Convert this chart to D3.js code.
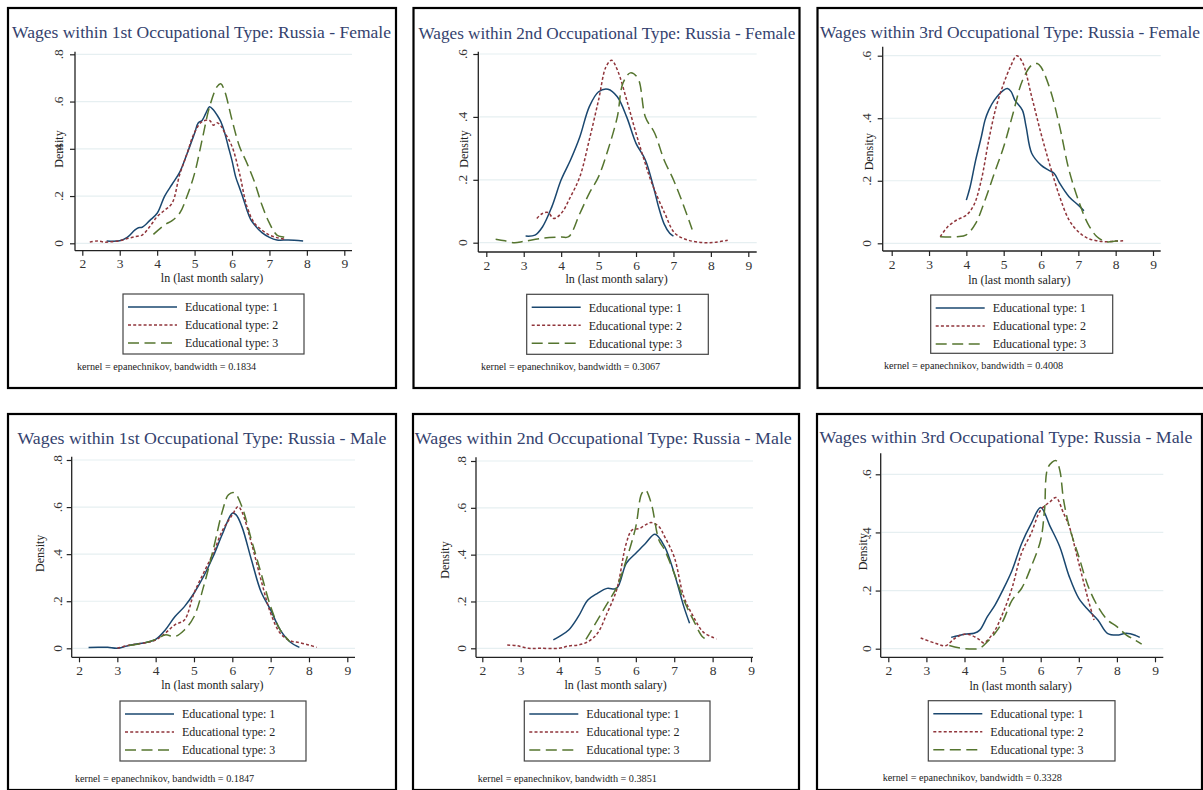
<!DOCTYPE html>
<html><head><meta charset="utf-8">
<script src="https://cdn.jsdelivr.net/npm/d3@7"></script>
<style>html,body{margin:0;padding:0;background:#fff;}svg{display:block;}</style>
</head><body>
<svg id="c" width="1203" height="790"></svg>
<script>
// ---------- DATA ----------
const titles = [
  "Wages within 1st Occupational Type: Russia - Female",
  "Wages within 2nd Occupational Type: Russia - Female",
  "Wages within 3rd Occupational Type: Russia - Female",
  "Wages within 1st Occupational Type: Russia - Male",
  "Wages within 2nd Occupational Type: Russia - Male",
  "Wages within 3rd Occupational Type: Russia - Male"
];
const bandwidths = ["0.1834","0.3067","0.4008","0.1847","0.3851","0.3328"];
const seriesNames = ["Educational type: 1","Educational type: 2","Educational type: 3"];
const xTicks = [2,3,4,5,6,7,8,9];
const yTicksFemale1 = [0,0.2,0.4,0.6,0.8];
const yTicksFemale2 = [0,0.2,0.4,0.6];
const yTicksFemale3 = [0,0.2,0.4,0.6];
const yTicksMale1 = [0,0.2,0.4,0.6,0.8];
const yTicksMale2 = [0,0.2,0.4,0.6,0.8];
const yTicksMale3 = [0,0.2,0.4,0.6];

// Female, occupational type 1
const f1_edu1 = [[2.65,0.01],[3.0,0.011],[3.2,0.025],[3.4,0.056],[3.5,0.066],[3.6,0.068],[3.8,0.096],[4.0,0.127],[4.2,0.2],[4.4,0.25],[4.6,0.3],[4.8,0.38],[5.0,0.466],[5.1,0.51],[5.2,0.52],[5.3,0.55],[5.4,0.578],[5.5,0.565],[5.6,0.543],[5.7,0.515],[5.8,0.47],[5.9,0.41],[6.0,0.35],[6.1,0.28],[6.2,0.235],[6.3,0.19],[6.4,0.14],[6.5,0.1],[6.6,0.078],[6.8,0.045],[7.0,0.025],[7.2,0.014],[7.5,0.014],[7.9,0.01]];
const f1_edu2 = [[2.2,0.005],[2.4,0.01],[2.6,0.005],[2.8,0.007],[3.0,0.011],[3.2,0.02],[3.4,0.028],[3.6,0.035],[3.8,0.07],[4.0,0.113],[4.2,0.14],[4.4,0.17],[4.6,0.29],[4.8,0.38],[5.0,0.47],[5.2,0.515],[5.4,0.52],[5.5,0.5],[5.6,0.51],[5.7,0.497],[5.8,0.47],[6.0,0.41],[6.2,0.296],[6.4,0.155],[6.6,0.085],[6.8,0.056],[7.0,0.035],[7.2,0.024],[7.4,0.017]];
const f1_edu3 = [[3.9,0.038],[4.2,0.078],[4.4,0.096],[4.6,0.127],[4.8,0.2],[5.0,0.296],[5.2,0.437],[5.4,0.578],[5.6,0.663],[5.7,0.675],[5.8,0.646],[6.0,0.522],[6.2,0.41],[6.4,0.339],[6.6,0.26],[6.8,0.162],[7.0,0.085],[7.2,0.035],[7.4,0.025],[7.5,0.017]];

// Female, occupational type 2
const f2_edu1 = [[3.05,0.021],[3.3,0.024],[3.5,0.05],[3.75,0.114],[4.0,0.2],[4.25,0.263],[4.5,0.337],[4.75,0.432],[5.0,0.48],[5.25,0.488],[5.5,0.464],[5.75,0.4],[6.0,0.316],[6.25,0.263],[6.5,0.162],[6.6,0.115],[6.75,0.06],[6.9,0.03],[7.0,0.021]];
const f2_edu2 = [[3.35,0.077],[3.5,0.093],[3.65,0.096],[3.8,0.077],[4.0,0.093],[4.25,0.146],[4.5,0.21],[4.75,0.326],[5.0,0.454],[5.2,0.56],[5.35,0.58],[5.5,0.55],[5.75,0.454],[6.0,0.348],[6.2,0.27],[6.42,0.19],[6.77,0.093],[7.04,0.03],[7.4,0.008],[7.8,0.0],[8.1,0.001],[8.45,0.008]];
const f2_edu3 = [[2.25,0.011],[2.5,0.006],[2.75,0.0],[3.0,0.004],[3.5,0.014],[4.0,0.018],[4.2,0.019],[4.5,0.093],[4.75,0.157],[5.0,0.21],[5.25,0.295],[5.5,0.4],[5.65,0.507],[5.85,0.54],[6.05,0.523],[6.25,0.4],[6.5,0.348],[6.75,0.263],[7.0,0.2],[7.25,0.125],[7.5,0.042]];

// Female, occupational type 3
const f3_edu1 = [[4.0,0.138],[4.1,0.18],[4.25,0.266],[4.4,0.34],[4.5,0.394],[4.6,0.426],[4.75,0.458],[5.0,0.49],[5.1,0.495],[5.2,0.485],[5.3,0.458],[5.5,0.426],[5.6,0.373],[5.75,0.288],[6.0,0.25],[6.2,0.234],[6.35,0.224],[6.5,0.192],[6.75,0.149],[7.0,0.122],[7.15,0.104]];
const f3_edu2 = [[3.3,0.021],[3.5,0.053],[3.75,0.075],[4.0,0.09],[4.2,0.122],[4.4,0.202],[4.6,0.33],[4.8,0.437],[5.0,0.511],[5.2,0.57],[5.35,0.6],[5.5,0.58],[5.75,0.469],[6.0,0.351],[6.25,0.245],[6.5,0.149],[6.75,0.075],[7.0,0.037],[7.25,0.016],[7.5,0.008],[7.75,0.005],[8.0,0.007],[8.2,0.008]];
const f3_edu3 = [[3.3,0.021],[3.75,0.021],[4.0,0.027],[4.25,0.064],[4.5,0.138],[4.75,0.224],[5.0,0.309],[5.25,0.415],[5.5,0.52],[5.75,0.57],[5.9,0.575],[6.0,0.564],[6.25,0.49],[6.5,0.373],[6.75,0.234],[7.0,0.138],[7.25,0.064],[7.5,0.021],[7.75,0.005],[8.0,0.007],[8.2,0.008]];

// Male, occupational type 1
const m1_edu1 = [[2.25,0.003],[2.5,0.004],[2.75,0.004],[3.0,0.0],[3.25,0.01],[3.5,0.018],[3.75,0.025],[4.0,0.038],[4.25,0.078],[4.5,0.134],[4.75,0.177],[5.0,0.234],[5.25,0.305],[5.5,0.39],[5.75,0.489],[6.0,0.574],[6.1,0.567],[6.25,0.517],[6.5,0.375],[6.75,0.24],[7.0,0.163],[7.25,0.078],[7.5,0.028],[7.75,0.004]];
const m1_edu2 = [[3.0,0.0],[3.25,0.011],[3.5,0.018],[3.75,0.024],[4.0,0.035],[4.25,0.064],[4.5,0.1],[4.75,0.12],[5.0,0.234],[5.25,0.32],[5.5,0.404],[5.75,0.503],[6.0,0.567],[6.15,0.602],[6.25,0.58],[6.5,0.446],[6.75,0.29],[7.0,0.149],[7.25,0.064],[7.5,0.033],[7.75,0.024],[8.0,0.014],[8.2,0.004]];
const m1_edu3 = [[3.3,0.012],[3.75,0.025],[4.0,0.038],[4.25,0.057],[4.5,0.05],[4.75,0.078],[5.0,0.134],[5.25,0.262],[5.5,0.418],[5.75,0.588],[5.9,0.652],[6.05,0.661],[6.25,0.602],[6.5,0.46],[6.75,0.319],[7.0,0.177],[7.25,0.078],[7.5,0.028]];

// Male, occupational type 2
const m2_edu1 = [[3.85,0.036],[4.0,0.05],[4.25,0.078],[4.5,0.135],[4.75,0.206],[5.0,0.235],[5.25,0.256],[5.5,0.256],[5.75,0.363],[6.0,0.406],[6.25,0.448],[6.5,0.487],[6.75,0.434],[7.0,0.32],[7.25,0.178],[7.4,0.107]];
const m2_edu2 = [[2.65,0.014],[2.9,0.011],[3.2,0.0],[3.5,0.0],[4.0,0.0],[4.25,0.01],[4.5,0.014],[4.75,0.028],[5.0,0.064],[5.25,0.15],[5.5,0.25],[5.75,0.448],[5.9,0.505],[6.1,0.512],[6.25,0.527],[6.4,0.537],[6.6,0.52],[6.75,0.477],[7.0,0.39],[7.25,0.22],[7.5,0.135],[7.75,0.07],[8.0,0.047],[8.1,0.04]];
const m2_edu3 = [[4.7,0.038],[5.0,0.12],[5.25,0.19],[5.5,0.26],[5.75,0.377],[6.0,0.52],[6.15,0.66],[6.25,0.676],[6.4,0.62],[6.6,0.463],[6.75,0.42],[7.0,0.32],[7.25,0.206],[7.5,0.12],[7.75,0.047],[7.9,0.036]];

// Male, occupational type 3
const m3_edu1 = [[3.65,0.039],[4.0,0.05],[4.25,0.053],[4.4,0.064],[4.6,0.11],[4.8,0.15],[5.0,0.2],[5.25,0.27],[5.5,0.362],[5.75,0.43],[6.0,0.486],[6.25,0.42],[6.5,0.351],[6.75,0.248],[7.0,0.173],[7.25,0.133],[7.5,0.099],[7.75,0.053],[8.0,0.047],[8.25,0.053],[8.5,0.045],[8.6,0.039]];
const m3_edu2 = [[2.85,0.037],[3.25,0.018],[3.5,0.01],[3.75,0.036],[4.0,0.05],[4.2,0.045],[4.4,0.03],[4.5,0.02],[4.75,0.053],[5.0,0.12],[5.25,0.21],[5.5,0.33],[5.75,0.397],[6.0,0.477],[6.25,0.506],[6.4,0.52],[6.6,0.466],[6.75,0.42],[7.0,0.294],[7.25,0.167],[7.4,0.099]];
const m3_edu3 = [[3.6,0.011],[4.0,0.0],[4.4,0.002],[4.6,0.024],[4.8,0.053],[5.0,0.093],[5.25,0.167],[5.5,0.208],[5.75,0.282],[6.0,0.374],[6.1,0.477],[6.2,0.626],[6.4,0.647],[6.5,0.615],[6.6,0.512],[6.75,0.42],[7.0,0.317],[7.25,0.213],[7.5,0.145],[7.75,0.099],[8.0,0.076],[8.25,0.047],[8.5,0.028],[8.65,0.016]];

const panelSeries = [
  [f1_edu1,f1_edu2,f1_edu3],[f2_edu1,f2_edu2,f2_edu3],[f3_edu1,f3_edu2,f3_edu3],
  [m1_edu1,m1_edu2,m1_edu3],[m2_edu1,m2_edu2,m2_edu3],[m3_edu1,m3_edu2,m3_edu3]
];
const panelYTicks = [yTicksFemale1,yTicksFemale2,yTicksFemale3,yTicksMale1,yTicksMale2,yTicksMale3];

// ---------- LAYOUT (pixels) ----------
const layout = [
  {frame:[8,8,388,380], plot:{l:75,r:352,t:51.7,b:250.7}, xr:[82.3,344.3], yr:[243.3,54.3], ymax:0.8,
   title:[201.5,38], tw:379, legend:[123,294,181,60], note:[77,370], xlab:[212,282], dens:[59,149], ytl:58},
  {frame:[413.5,8,386,380], plot:{l:478.3,r:756.7,t:51.7,b:252}, xr:[486.3,748.3], yr:[242.7,54], ymax:0.6,
   title:[607,38.5], tw:377, legend:[526.7,294.3,181.6,60], note:[481,369.5], xlab:[616.7,283], dens:[464,149], ytl:462.5},
  {frame:[817.5,8,400,380], plot:{l:882.7,r:1160.7,t:46.7,b:251}, xr:[891.7,1153], yr:[243.3,55.7], ymax:0.6,
   title:[1010,37.5], tw:380, legend:[930.7,295,182,58.3], note:[884,368.5], xlab:[1019.3,284], dens:[868.3,151.7], ytl:866},
  {frame:[8,414,388,376], plot:{l:71.7,r:355,t:456.7,b:657.3}, xr:[79,347.3], yr:[648.3,460], ymax:0.8,
   title:[202,444], tw:369, legend:[120,701,186,60], note:[75,782], xlab:[212.3,689], dens:[40,553.3], ytl:57.3},
  {frame:[413,414,386,376], plot:{l:476,r:753,t:457.3,b:657.3}, xr:[482.3,751], yr:[648.3,461], ymax:0.8,
   title:[603.3,444], tw:377, legend:[524.3,701,185.7,60], note:[477.7,782], xlab:[615.7,689], dens:[445,560], ytl:461.7},
  {frame:[817,414,385,376], plot:{l:880.7,r:1163.3,t:453.3,b:657.3}, xr:[888.3,1155], yr:[648.7,474.3], ymax:0.6,
   title:[1006,442.5], tw:373, legend:[928.3,700.7,186.7,60.3], note:[882.7,781], xlab:[1020.7,689.5], dens:[862.7,551.7], ytl:866}
];

const colors = ["#1a476f","#90353b","#55752f"];
const dashes = [null,"3,2.2","11,5.5"];
const FONT = "'Liberation Serif','DejaVu Serif',serif";
const yFmt = d => d === 0 ? "0" : d3.format(".1f")(d).replace(/^0/,"");

const svg = d3.select("#c");
svg.append("rect").attr("width",1203).attr("height",790).attr("fill","#fff");

layout.forEach((L,i) => {
  const g = svg.append("g");
  const x = d3.scaleLinear().domain([2,9]).range(L.xr);
  const y = d3.scaleLinear().domain([0,L.ymax]).range(L.yr);
  const yt = panelYTicks[i];

  // frame
  g.append("rect").attr("x",L.frame[0]).attr("y",L.frame[1]).attr("width",L.frame[2]).attr("height",L.frame[3])
    .attr("fill","#fff").attr("stroke","#000").attr("stroke-width",2.2);

  // title
  g.append("text").attr("x",L.title[0]).attr("y",L.title[1]).attr("text-anchor","middle")
    .attr("font-family",FONT).attr("font-size",17.5).attr("fill","#34426e")
    .attr("textLength",L.tw).attr("lengthAdjust","spacingAndGlyphs").text(titles[i]);

  // grid
  g.selectAll(".grid").data(yt).enter().append("line")
    .attr("x1",L.plot.l+1).attr("x2",L.plot.r).attr("y1",d=>y(d)).attr("y2",d=>y(d))
    .attr("stroke","#e6eff1").attr("stroke-width",1.2);

  // axes lines
  g.append("line").attr("x1",L.plot.l).attr("x2",L.plot.l).attr("y1",L.plot.t).attr("y2",L.plot.b)
    .attr("stroke","#222").attr("stroke-width",1.3);
  g.append("line").attr("x1",L.plot.l).attr("x2",L.plot.r).attr("y1",L.plot.b).attr("y2",L.plot.b)
    .attr("stroke","#222").attr("stroke-width",1.3);

  // x ticks
  const xa = g.append("g").attr("transform",`translate(0,${L.plot.b})`)
    .call(d3.axisBottom(x).tickValues(xTicks).tickSize(5).tickPadding(3).tickFormat(d3.format("d")));
  xa.select(".domain").remove();
  xa.selectAll("line").attr("stroke","#222").attr("stroke-width",1.2);
  xa.selectAll("text").attr("font-family",FONT).attr("font-size",13.5).attr("fill","#333");

  // y ticks
  const ya = g.append("g").attr("transform",`translate(${L.plot.l},0)`)
    .call(d3.axisLeft(y).tickValues(yt).tickSize(5).tickFormat(""));
  ya.select(".domain").remove();
  ya.selectAll("line").attr("stroke","#222").attr("stroke-width",1.2);
  g.selectAll(".ytl").data(yt).enter().append("text")
    .attr("transform",d=>`translate(${L.ytl},${y(d)}) rotate(-90)`)
    .attr("text-anchor","middle").attr("dy","0.35em")
    .attr("font-family",FONT).attr("font-size",13.5).attr("fill","#333").text(yFmt);

  // axis titles
  g.append("text").attr("x",L.xlab[0]).attr("y",L.xlab[1]).attr("text-anchor","middle")
    .attr("font-family",FONT).attr("font-size",12).attr("fill","#222").text("ln (last month salary)");
  g.append("text").attr("transform",`translate(${L.dens[0]},${L.dens[1]}) rotate(-90)`)
    .attr("text-anchor","middle").attr("dy","0.35em")
    .attr("font-family",FONT).attr("font-size",12).attr("fill","#222").text("Density");

  // curves
  const line = d3.line().x(d=>x(d[0])).y(d=>y(d[1])).curve(d3.curveCatmullRom.alpha(0.5));
  panelSeries[i].forEach((s,k) => {
    g.append("path").datum(s).attr("d",line).attr("fill","none")
      .attr("stroke",colors[k]).attr("stroke-width",1.5)
      .attr("stroke-dasharray",dashes[k]);
  });

  // legend
  const [lx,ly,lw,lh] = L.legend;
  g.append("rect").attr("x",lx).attr("y",ly).attr("width",lw).attr("height",lh)
    .attr("fill","#fff").attr("stroke","#444").attr("stroke-width",1.2);
  seriesNames.forEach((n,k) => {
    const yy = ly + 13 + k*18;
    g.append("line").attr("x1",lx+5).attr("x2",lx+54).attr("y1",yy).attr("y2",yy)
      .attr("stroke",colors[k]).attr("stroke-width",1.5).attr("stroke-dasharray",dashes[k]);
    g.append("text").attr("x",lx+62).attr("y",yy).attr("dy","0.35em")
      .attr("font-family",FONT).attr("font-size",12).attr("fill","#222").text(n);
  });

  // note
  g.append("text").attr("x",L.note[0]).attr("y",L.note[1])
    .attr("font-family",FONT).attr("font-size",10.2).attr("fill","#222")
    .text("kernel = epanechnikov, bandwidth = " + bandwidths[i]);
});
</script>
</body></html>
